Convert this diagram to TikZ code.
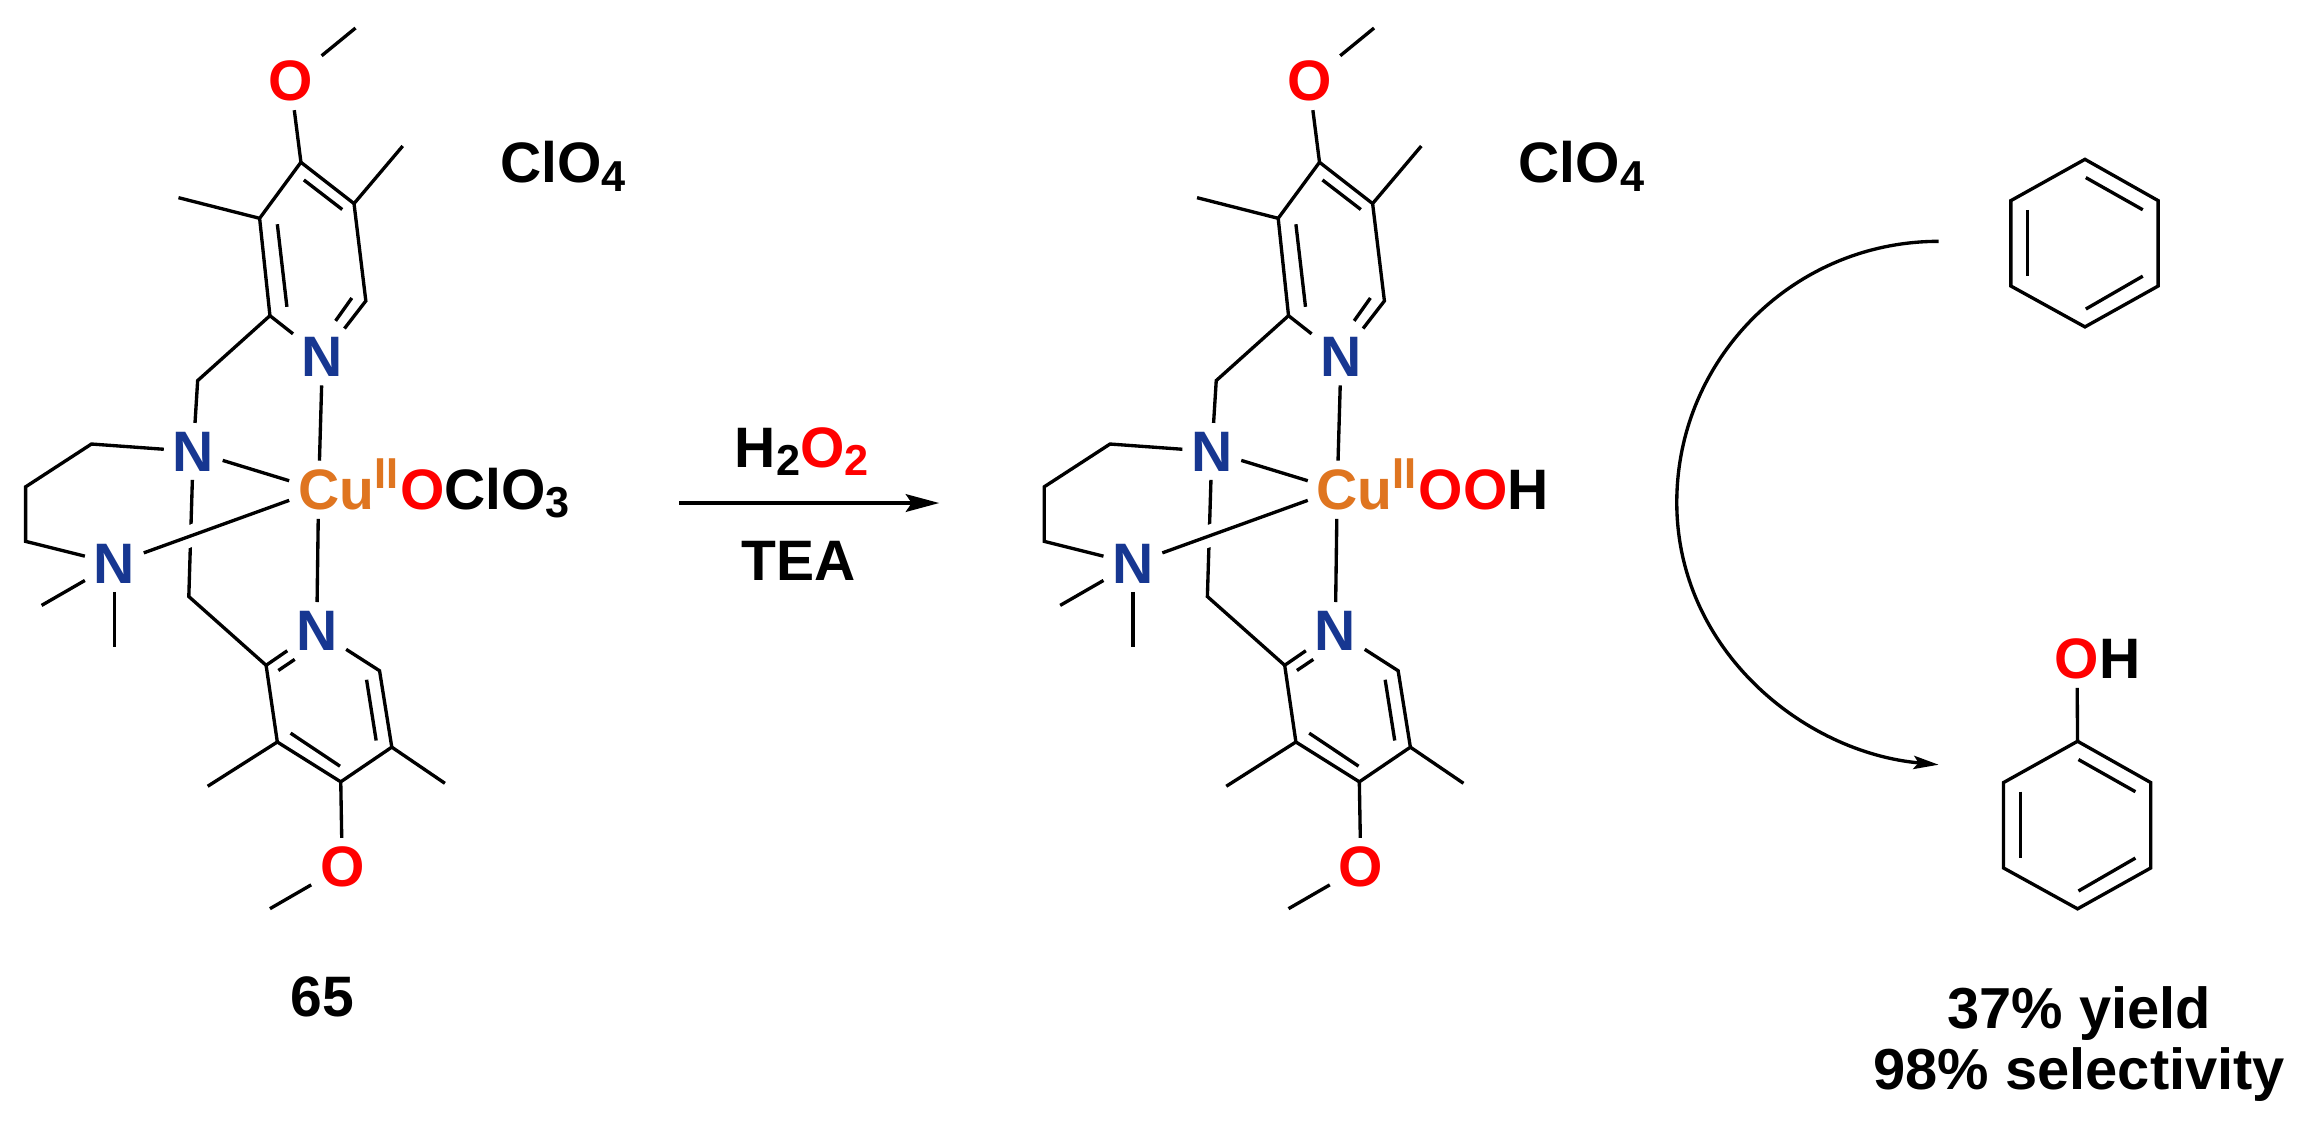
\documentclass[tikz,border=0pt]{standalone}
\usepackage{fontspec}
\setmainfont{Liberation Sans}
\usetikzlibrary{arrows.meta}
\definecolor{nblue}{RGB}{23,55,145}
\definecolor{cuorange}{RGB}{223,117,32}
\newcommand{\chemup}[1]{\raisebox{10.5pt}{\fontsize{22}{22}\selectfont #1}}
\newcommand{\chemdn}[1]{\raisebox{-4.2pt}{\fontsize{22}{22}\selectfont #1}}

\begin{document}
\begin{tikzpicture}[x=.75pt,y=-.75pt,line width=1.7pt,
	txt/.style={font=\fontsize{29}{31}\selectfont\bfseries,inner sep=0pt,outer sep=0pt},
	atom/.style={txt,inner sep=4.5pt},
	nitro/.style={atom,text=nblue},
	oxy/.style={atom,text=red},
	copper/.style={atom,text=cuorange}]
	\useasboundingbox (0,0) rectangle (1568,766.7);

	% the two copper complexes
	\foreach \n/\dx/\tail in {a/0/{\textcolor{red}{O}\textcolor{black}{ClO\chemdn{3}}},b/690.5/{\textcolor{red}{OO}\textcolor{black}{H}}} {
	\begin{scope}[shift={(\dx,0)}]
		\node[nitro] (nt\n) at (218.6,242) {N};
		\node[nitro] (nb\n) at (214.7,427.4) {N};
		\node[nitro] (na\n) at (131,306) {N};
		\node[nitro] (nm\n) at (77.5,382) {N};
		\node[oxy] (ot\n) at (197,55) {O};
		\node[oxy] (ob\n) at (232,587.7) {O};
		\node[copper] (cu\n) at (216,332) {C\smash{\rlap{u\chemup{II}\kern1pt\tail}}};
		\node[txt,anchor=base west] (anion\n) at (339,124) {ClO\chemdn{4}};

		% top ring
		\coordinate (c2\n) at (183,214);
		\coordinate (c3\n) at (176,148);
		\coordinate (c4\n) at (204,110);
		\coordinate (c5\n) at (240,138);
		\coordinate (c6\n) at (248,204);
		\draw (nt\n) -- (c2\n) -- (c3\n) -- (c4\n) -- (c5\n) -- (c6\n) -- (nt\n);
		\draw (c3\n) -- (121,134);
		\draw (c5\n) -- (273,99);
		\draw (c4\n) -- (ot\n) -- (241,19);

		% bottom ring
		\coordinate (d2\n) at (180.4,451);
		\coordinate (d3\n) at (188,503);
		\coordinate (d4\n) at (231,530);
		\coordinate (d5\n) at (265.6,506.5);
		\coordinate (d6\n) at (257.3,454.7);
		\draw (nb\n) -- (d2\n) -- (d3\n) -- (d4\n) -- (d5\n) -- (d6\n) -- (nb\n);
		\draw (d3\n) -- (140.8,533);
		\draw (d5\n) -- (301.6,531);
		\draw (d4\n) -- (ob\n) -- (183,616);

		% inner lines of the double bonds
		\foreach \ax/\ay/\bx/\by in {188/152/194.5/208, 206/122/232/142, 227.5/217.5/238.5/202, 188.7/454.5/199.8/447, 248.5/460.8/255/502, 197/497/230.5/519.4}
			\draw (\ax,\ay) -- (\bx,\by);

		% the chain and the bonds to copper
		\coordinate (ch1\n) at (134,258);
		\coordinate (ch2\n) at (128,404.4);
		\draw (c2\n) -- (ch1\n) -- (na\n);
		\draw (na\n) -- (ch2\n) -- (d2\n);
		\draw (na\n) -- (62,301) -- (17.4,330) -- (17.4,367) -- (nm\n);
		\draw (nm\n) -- (28.2,410.4);
		\draw (nm\n) -- (77.5,438.8);
		\draw (nt\n) -- (cu\n);
		\draw (nb\n) -- (cu\n);
		\draw (na\n) -- (cu\n);
		\draw[preaction={draw,white,line width=11pt}] (nm\n) -- (cu\n);
	\end{scope}
	}

	\node[txt,anchor=base] (num) at (218.6,689) {65};

	% reaction arrow
	\coordinate (arrowstart) at (460.4,341);
	\coordinate (arrowend) at (636.7,341);
	\draw[-{Stealth[length=17pt,width=9pt,inset=3pt]}] (arrowstart) -- (arrowend);
	\node[txt,anchor=base] (oxidant) at (543.5,317) {H\chemdn{2}\textcolor{red}{O\chemdn{2}}};
	\node[txt,anchor=base] (base) at (541.5,393.3) {TEA};

	% benzene and phenol
	\foreach \n/\dx/\dy in {a/0/0,b/-5/394.5} {
	\begin{scope}[shift={(\dx,\dy)}]
		\coordinate (r1\n) at (1413.4,108);
		\coordinate (r2\n) at (1463,136);
		\coordinate (r3\n) at (1463,193.9);
		\coordinate (r4\n) at (1413.4,221.6);
		\coordinate (r5\n) at (1363.2,193.9);
		\coordinate (r6\n) at (1363.2,136);
		\draw (r1\n) -- (r2\n) -- (r3\n) -- (r4\n) -- (r5\n) -- (r6\n) -- cycle;
		\draw (1414,120.4) -- (1452.6,142.2);
		\draw (1414,209.5) -- (1452.6,187.2);
		\draw (1374.6,142.2) -- (1374.6,187.2);
	\end{scope}
	}
	\node[oxy] (oh) at (1408,446.6) {O\smash{\rlap{\textcolor{black}{H}}}};
	\draw (r1b) -- (oh);

	% curved arrow
	\coordinate (bendstart) at (1314.2,163.6);
	\coordinate (bendmid) at (1136.7,340.6);
	\coordinate (bendend) at (1314.2,518.4);
	\draw[-{Stealth[length=12.75pt,width=6.75pt,inset=2.5pt]}] (bendstart) .. controls (1216,163.6) and (1136.7,243) .. (bendmid) .. controls (1136.7,440) and (1222,510) .. (bendend);

	\node[txt,align=center,font=\fontsize{29.4}{31}\selectfont\bfseries] (result) at (1409.6,708) {37\% yield\\98\% selectivity};
\end{tikzpicture}
\end{document}
